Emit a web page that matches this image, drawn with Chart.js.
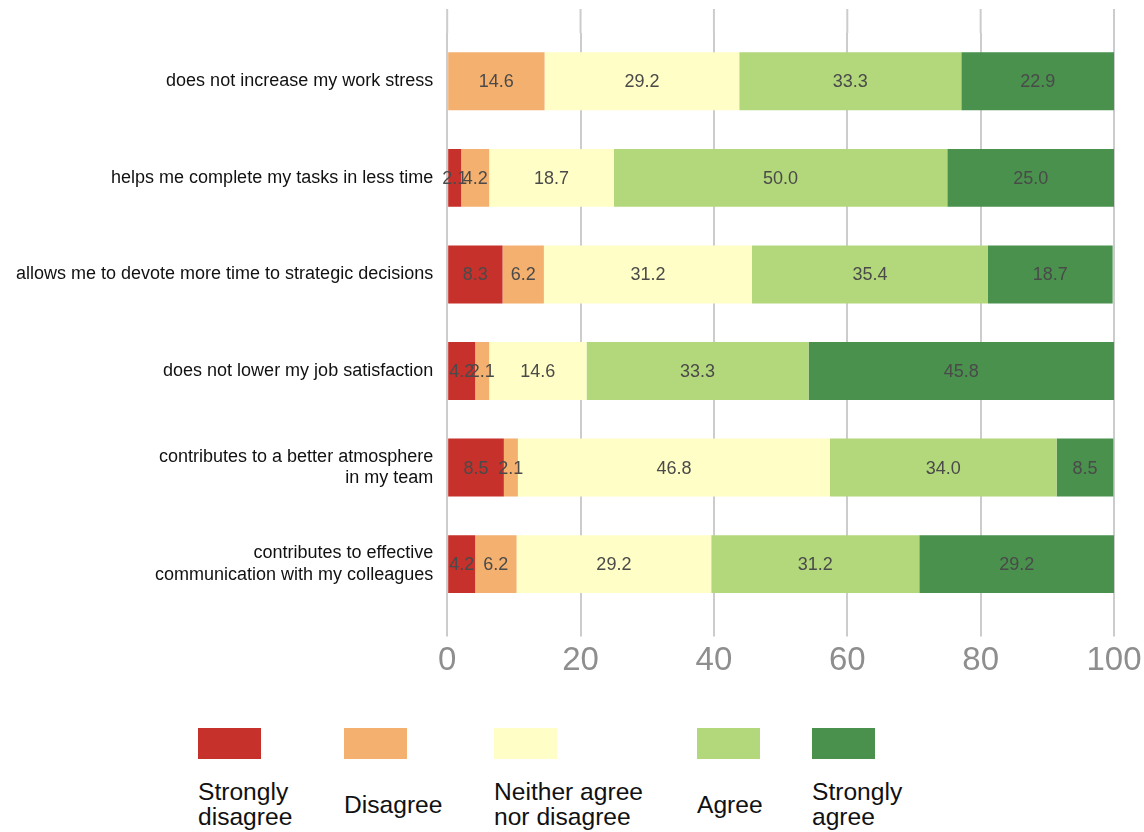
<!DOCTYPE html>
<html>
<head>
<meta charset="utf-8">
<script src="https://cdn.jsdelivr.net/npm/chart.js@4.4.0/dist/chart.umd.min.js"></script>
<style>
body{margin:0;background:#fff;font-family:"Liberation Sans",Arial,sans-serif;}
#wrap{position:relative;width:1144px;height:832px;}
#graf{position:absolute;left:0;top:0;}
.item{position:absolute;top:728px;}
.box{width:63px;height:31px;}
.txt{height:52px;margin-top:19px;display:flex;align-items:center;font-size:24.6px;line-height:25px;color:#111;}
</style>
</head>
<body>
<div id="wrap">
<canvas id="graf" width="1144" height="702"></canvas>
<div id="legend"></div>
</div>
<script>
var categorias = [
    'does not increase my work stress',
    'helps me complete my tasks in less time',
    'allows me to devote more time to strategic decisions',
    'does not lower my job satisfaction',
    ['contributes to a better atmosphere', 'in my team'],
    ['contributes to effective', 'communication with my colleagues']
];
var series = ['Strongly disagree', 'Disagree', 'Neither agree nor disagree', 'Agree', 'Strongly agree'];
var seriesLegend = [['Strongly', 'disagree'], ['Disagree'], ['Neither agree', 'nor disagree'], ['Agree'], ['Strongly', 'agree']];
var muyDesacuerdo = [0, 2.1, 8.3, 4.2, 8.5, 4.2];
var desacuerdo = [14.6, 4.2, 6.2, 2.1, 2.1, 6.2];
var neutral = [29.2, 18.7, 31.2, 14.6, 46.8, 29.2];
var acuerdo = [33.3, 50.0, 35.4, 33.3, 34.0, 31.2];
var muyAcuerdo = [22.9, 25.0, 18.7, 45.8, 8.5, 29.2];
var ticksX = [0, 20, 40, 60, 80, 100];
var colores = ['#c7312b', '#f3b06f', '#fffec6', '#b3d77b', '#49914d'];
var valores = [muyDesacuerdo, desacuerdo, neutral, acuerdo, muyAcuerdo];

// numeros dentro de las barras
var etiquetas = {
    id: 'etiquetas',
    afterDatasetsDraw: function(chart) {
        var c = chart.ctx;
        c.save();
        c.font = '18px "Liberation Sans", Arial, sans-serif';
        c.fillStyle = '#4a4a4a';
        c.textAlign = 'center';
        c.textBaseline = 'middle';
        chart.data.datasets.forEach(function(ds, i) {
            chart.getDatasetMeta(i).data.forEach(function(bar, j) {
                var v = ds.data[j];
                if (!v) return;
                c.fillText(v.toFixed(1), (bar.x + bar.base) / 2, bar.y + 1);
            });
        });
        c.restore();
    }
};

// lineas de la rejilla un poco por encima del area
var rejillaArriba = {
    id: 'rejillaArriba',
    beforeDatasetsDraw: function(chart) {
        var c = chart.ctx, x = chart.scales.x, a = chart.chartArea;
        c.save();
        c.strokeStyle = '#cccccc';
        c.lineWidth = 2;
        x.ticks.forEach(function(t) {
            var px = x.getPixelForValue(t.value);
            c.beginPath();
            c.moveTo(px, a.top - 24);
            c.lineTo(px, a.top);
            c.stroke();
        });
        c.restore();
    }
};

var ctx = document.getElementById('graf').getContext('2d');
var graf = new Chart(ctx, {
    type: 'bar',
    data: {
        labels: categorias,
        datasets: series.map(function(s, i) {
            return {
                label: s,
                data: valores[i],
                backgroundColor: colores[i],
                borderWidth: 0,
                barPercentage: 0.6,
                categoryPercentage: 1
            };
        })
    },
    options: {
        indexAxis: 'y',
        responsive: false,
        animation: false,
        layout: { padding: { top: 33, right: 30, bottom: 16, left: 2 } },
        plugins: { legend: { display: false }, tooltip: { enabled: false } },
        scales: {
            x: {
                stacked: true,
                min: 0,
                max: 100,
                afterBuildTicks: function(s) { s.ticks = ticksX.map(function(v) { return { value: v }; }); },
                afterFit: function(s) { s.paddingRight = 0; s.paddingLeft = 0; },
                border: { display: false },
                grid: { color: '#cccccc', lineWidth: 2, tickLength: 24 },
                ticks: { color: '#8e8e8e', padding: 5, font: { family: '"Liberation Sans", Arial, sans-serif', size: 33 } }
            },
            y: {
                stacked: true,
                afterFit: function(s) { s.paddingTop = 0; s.paddingBottom = 0; },
                border: { display: false },
                grid: { display: false, drawTicks: false },
                ticks: { color: '#111', padding: 14, font: { family: '"Liberation Sans", Arial, sans-serif', size: 18 }, autoSkip: false }
            }
        }
    },
    plugins: [etiquetas, rejillaArriba]
});

var posLeyenda = [198, 344, 494, 697, 812];
var ley = document.getElementById('legend');
seriesLegend.forEach(function(lines, i) {
    var d = document.createElement('div');
    d.className = 'item';
    d.style.left = posLeyenda[i] + 'px';
    d.innerHTML = '<div class="box" style="background:' + colores[i] + '"></div><div class="txt"><div>' + lines.join('<br>') + '</div></div>';
    ley.appendChild(d);
});
</script>
</body>
</html>
